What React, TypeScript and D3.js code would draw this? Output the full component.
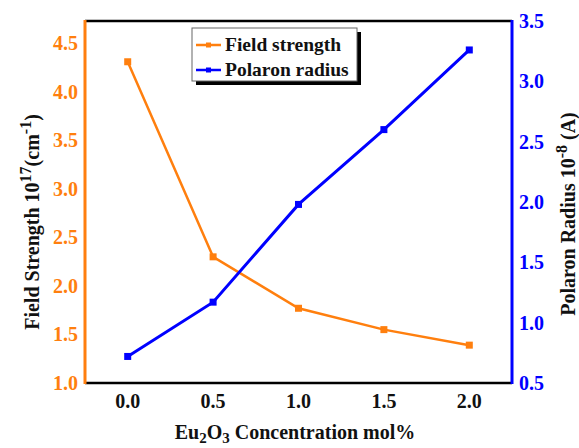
import React from 'react';
import * as d3 from 'd3';

// Eu2O3 concentration (mol%)
const concentration = [0.0, 0.5, 1.0, 1.5, 2.0];
// field strength, 10^17 cm^-1
const fieldStrength = [4.31, 2.3, 1.77, 1.55, 1.39];
// polaron radius, 10^-8 A
const polaronRadius = [0.72, 1.17, 1.98, 2.6, 3.26];

const xTicks = [0.0, 0.5, 1.0, 1.5, 2.0];
const leftTicks = [1.0, 1.5, 2.0, 2.5, 3.0, 3.5, 4.0, 4.5];
const rightTicks = [0.5, 1.0, 1.5, 2.0, 2.5, 3.0, 3.5];

const ORANGE = '#ff7f0e';
const BLUE = '#0000ff';
const FONT = "'Liberation Serif', serif";

const W = 579;
const H = 448;
const margin = { top: 21, right: 67, bottom: 65, left: 85 };

const App = () => {
  const x = d3.scaleLinear().domain([-0.25, 2.25]).range([margin.left, W - margin.right]);
  const yL = d3.scaleLinear().domain([1.0, 4.73]).range([H - margin.bottom, margin.top]);
  const yR = d3.scaleLinear().domain([0.5, 3.5]).range([H - margin.bottom, margin.top]);

  const lineL = d3.line<number>().x((_, i) => x(concentration[i])).y(d => yL(d));
  const lineR = d3.line<number>().x((_, i) => x(concentration[i])).y(d => yR(d));

  const x0 = margin.left;
  const x1 = W - margin.right;
  const y0 = margin.top;
  const y1 = H - margin.bottom;
  const fmt = d3.format('.1f');

  const ms = 7;
  const fs = 20;
  const txt = { fontFamily: FONT, fontWeight: 'bold' as const };

  return (
    <svg width={W} height={H} style={{ position: 'absolute', left: 0, top: 0, ...txt }}>
      <rect width={W} height={H} fill="#fff" />

      {/* frame */}
      <line x1={x0} x2={x1} y1={y0} y2={y0} stroke="#000" strokeWidth={2.5} />
      <line x1={x0} x2={x1} y1={y1} y2={y1} stroke="#000" strokeWidth={2.5} />
      <line x1={x0} x2={x0} y1={y0 - 1} y2={y1 + 1} stroke={ORANGE} strokeWidth={3} />
      <line x1={x1} x2={x1} y1={y0 - 1} y2={y1 + 1} stroke={BLUE} strokeWidth={3} />

      {/* x tick labels */}
      {xTicks.map(t => (
        <text key={t} x={x(t)} y={408} textAnchor="middle" fontSize={fs} fill="#111" style={txt}>{fmt(t)}</text>
      ))}
      {/* left tick labels */}
      {leftTicks.map(t => (
        <text key={t} x={78} y={yL(t)} dy="0.35em" textAnchor="end" fontSize={fs} fill={ORANGE} style={txt}>{fmt(t)}</text>
      ))}
      {/* right tick labels */}
      {rightTicks.map(t => (
        <text key={t} x={519} y={yR(t)} dy="0.35em" textAnchor="start" fontSize={fs} fill={BLUE} style={txt}>{fmt(t)}</text>
      ))}

      {/* series */}
      <path d={lineL(fieldStrength) || ''} fill="none" stroke={ORANGE} strokeWidth={2.5} />
      <path d={lineR(polaronRadius) || ''} fill="none" stroke={BLUE} strokeWidth={3} />
      {fieldStrength.map((v, i) => (
        <rect key={'o' + i} x={x(concentration[i]) - ms / 2} y={yL(v) - ms / 2} width={ms} height={ms} fill={ORANGE} />
      ))}
      {polaronRadius.map((v, i) => (
        <rect key={'b' + i} x={x(concentration[i]) - ms / 2} y={yR(v) - ms / 2} width={ms} height={ms} fill={BLUE} />
      ))}

      {/* legend */}
      <g>
        <rect x={196} y={32} width={165} height={53} fill="#000" />
        <rect x={192} y={28} width={165} height={53} fill="#fff" stroke="#666" strokeWidth={1} />
        <line x1={196} x2={221} y1={45} y2={45} stroke={ORANGE} strokeWidth={2.5} />
        <rect x={206} y={42.5} width={5} height={5} fill={ORANGE} />
        <text x={225} y={51} fontSize={19.5} fill="#111" style={txt}>Field strength</text>
        <line x1={196} x2={221} y1={70} y2={70} stroke={BLUE} strokeWidth={2.5} />
        <rect x={206} y={67.5} width={5} height={5} fill={BLUE} />
        <text x={225} y={76} fontSize={19.5} fill="#111" style={txt}>Polaron radius</text>
      </g>

      {/* axis titles */}
      <text x={295} y={439} textAnchor="middle" fontSize={20} fill="#111" style={txt}>
        Eu<tspan fontSize={15} dy={4}>2</tspan><tspan dy={-4}>O</tspan><tspan fontSize={15} dy={4}>3</tspan><tspan dy={-4}> Concentration mol%</tspan>
      </text>
      <text transform={`translate(39, ${(y0 + y1) / 2 + 20}) rotate(-90)`} textAnchor="middle" fontSize={20} fill="#111" style={txt}>
        Field Strength 10<tspan fontSize={16} dy={-8}>17</tspan><tspan dy={8}>(cm</tspan><tspan fontSize={16} dy={-8}>-1</tspan><tspan dy={8}>)</tspan>
      </text>
      <text transform={`translate(575, ${(y0 + y1) / 2 + 12}) rotate(-90)`} textAnchor="middle" fontSize={20} fill="#111" style={txt}>
        Polaron Radius 10<tspan fontSize={16} dy={-8}>-8</tspan><tspan dy={8}> (A)</tspan>
      </text>
    </svg>
  );
};

export default App;
